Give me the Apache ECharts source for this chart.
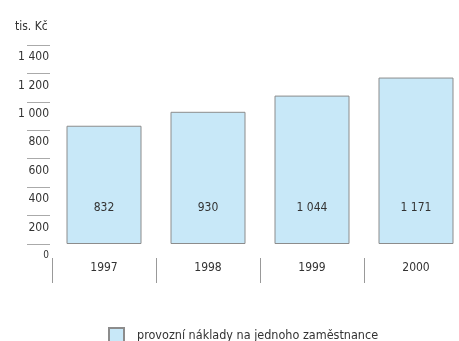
<!DOCTYPE html>
<html>
<head>
<meta charset="utf-8">
<script src="https://cdn.jsdelivr.net/npm/echarts@6/dist/echarts.min.js"></script>
<style>
  html, body { margin: 0; padding: 0; background: #fff; }
  #chart { width: 459px; height: 341px; }
</style>
</head>
<body>
<div id="chart"></div>
<script>
// Operating costs per employee (thousand CZK)
const years = ['1997', '1998', '1999', '2000'];
const costs = [832, 930, 1044, 1171];
const seriesName = 'provozní náklady na jednoho zaměstnance';
const unitLabel = 'tis. Kč';
const yMin = 0, yMax = 1400, yStep = 200;

const FONT = '"DejaVu Sans Condensed", "Liberation Sans Narrow", sans-serif';
const TEXT = '#333333';

// thousands separated by a space, e.g. 1 044
function fmt(v) {
  return String(v).replace(/\B(?=(\d{3})+(?!\d))/g, ' ');
}

const chart = echarts.init(document.getElementById('chart'), null, { renderer: 'canvas' });
chart.setOption({
  animation: false,
  title: {
    text: unitLabel,
    left: 15, top: 21, padding: 0,
    textStyle: { fontFamily: FONT, fontSize: 12, fontWeight: 'normal', color: TEXT }
  },
  legend: {
    data: [seriesName],
    left: 108, top: 327, padding: 0,
    itemWidth: 15, itemHeight: 15, itemGap: 8,
    icon: 'rect',
    textStyle: { fontFamily: FONT, fontSize: 12.5, color: TEXT, padding: [0, 0, 0, 8] }
  },
  // grid 0 holds the bars; grid 1 carries the year axis, set a little lower
  grid: [
    { left: 52, top: 45, bottom: 97, width: 416, outerBoundsMode: 'none', containLabel: false },
    { left: 52, top: 45, bottom: 83, width: 416, outerBoundsMode: 'none', containLabel: false }
  ],
  xAxis: [
    {
      type: 'category', gridIndex: 0, data: years,
      axisLine: { show: false }, axisTick: { show: false }, axisLabel: { show: false }
    },
    {
      type: 'category', gridIndex: 1, position: 'bottom', data: years,
      axisLine: { show: false },
      axisTick: { show: true, length: 25, interval: 0, lineStyle: { color: '#999', width: 1 } },
      axisLabel: { margin: 4, fontFamily: FONT, fontSize: 12, color: TEXT }
    }
  ],
  yAxis: [
    {
      type: 'value', gridIndex: 0,
      min: yMin, max: yMax, interval: yStep,
      offset: 2,
      axisLine: { show: false },
      splitLine: { show: false },
      axisTick: { show: true, length: 23, lineStyle: { color: '#aaa', width: 1 } },
      axisLabel: {
        margin: 1,
        verticalAlign: 'top',
        padding: [6, 0, 0, 0],
        fontFamily: FONT, fontSize: 12, color: TEXT,
        formatter: v => v === 0 ? '{s|0}' : fmt(v),
        rich: { s: { fontFamily: FONT, fontSize: 10, color: TEXT, padding: [0, 0, 0, 0] } }
      }
    },
    { type: 'value', gridIndex: 1, show: false }
  ],
  series: [{
    name: seriesName,
    type: 'bar',
    xAxisIndex: 0, yAxisIndex: 0,
    data: costs,
    barWidth: 75,
    itemStyle: { color: '#c8e8f8', borderColor: '#8c8c8c', borderWidth: 1 },
    label: {
      show: true,
      position: 'insideBottom',
      distance: 30,
      fontFamily: FONT, fontSize: 12, color: TEXT,
      formatter: p => fmt(p.value)
    }
  }]
});
</script>
</body>
</html>
